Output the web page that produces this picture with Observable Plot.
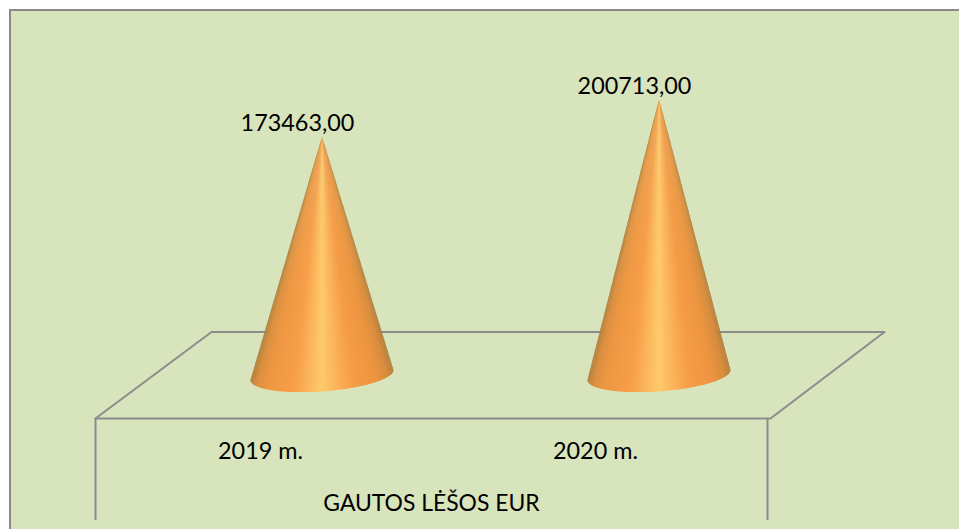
<!DOCTYPE html>
<html>
<head>
<meta charset="utf-8">
<style>html,body{margin:0;padding:0;background:#fff;overflow:hidden}svg{display:block}</style>
<script src="https://cdn.jsdelivr.net/npm/d3@7"></script>
<script src="https://cdn.jsdelivr.net/npm/@observablehq/plot@0.6"></script>
</head>
<body>
<div id="chart"></div>
<script>
// Chart values
const categories = ["2019 m.", "2020 m."];
const values = [173463, 200713];
const valueLabels = ["173463,00", "200713,00"];
const seriesName = "GAUTOS LĖŠOS EUR";

// 3D frame of the chart in chart units (category index, EUR)
const floorX = [-0.3294, 1.6677, 1.3294, -0.6736, -0.3294];
const floorY = [31706, 31706, -31341, -31341, 31706];
const wallX = [-0.6736, 1.3205];
const wallTop = -31341;
const wallBottom = -105685;
const plotBox = {x1: -0.9258, x2: 1.9, y1: 266035, y2: -116000};
const categoryLabelY = -55394;
const categoryLabelX = [-0.184, 0.81];
const seriesLabelX = 0.3233;
const seriesLabelY = -93500;

// Cone base in chart units
const baseRx = 0.2122;   // half width, category units
const baseRy = 11900;    // half depth, EUR units
const baseTilt = 3650;   // rise to the right, EUR units
const steps = d3.range(0, 121);

// Horizontal shading across a cone
const shadeAt = [0, 0.04, 0.12, 0.3, 0.4, 0.5, 0.6, 0.72, 0.88, 0.96, 1];
const shadeStops = ["#b27c38", "#dc8e3e", "#ee9742", "#f79e49", "#fbb45a", "#fecb6c", "#fbb45a", "#f69c47", "#ec9540", "#d88b3c", "#b27c38"];
const shade = d3.scaleLinear().domain(shadeAt).range(shadeStops).interpolate(d3.interpolateRgb);

const slices = categories.flatMap((c, i) => steps.slice(0, -1).map(s => {
  const t0 = Math.PI * s / 120, t1 = Math.min(Math.PI, Math.PI * (s + 1.7) / 120);
  const pt = t => ({
    x: i + baseRx * Math.cos(t),
    y: -baseRy * Math.sin(t) + baseTilt * Math.cos(t)
  });
  const a = pt(t0), b = pt(t1);
  const color = shade((1 + Math.cos(Math.PI * (s + 0.5) / 120)) / 2);
  return [
    {z: `${i}-${s}`, x1: i, y1: values[i], x2: a.x, y2: a.y, color},
    {z: `${i}-${s}`, x1: i, y1: values[i], x2: b.x, y2: b.y, color}
  ];
}).flat());

const floorLine = floorX.map((x, k) => ({x, y: floorY[k]}));
const walls = wallX.map(x => ({x, y1: wallTop, y2: wallBottom}));
const cats = categories.map((c, i) => ({c, x: categoryLabelX[i]}));
const tops = values.map((v, i) => ({x: i, v, label: valueLabels[i]}));

const font = "Lato, 'Open Sans', sans-serif";
const plot = Plot.plot({
  width: 959,
  height: 529,
  margin: 0,
  style: {background: "transparent", fontFamily: font},
  x: {type: "linear", domain: [0, 1], range: [322, 659], axis: null},
  y: {type: "linear", domain: [0, 200000], range: [375, 100.6], axis: null},
  color: {type: "identity"},
  marks: [
    Plot.rect([plotBox], {x1: "x1", x2: "x2", y1: "y1", y2: "y2", fill: "#d8e4bc", stroke: "#8a8a8a", strokeWidth: 2}),
    Plot.line(floorLine, {x: "x", y: "y", stroke: "#8c8c8c", strokeWidth: 2}),
    Plot.ruleX(walls, {x: "x", y1: "y1", y2: "y2", stroke: "#8c8c8c", strokeWidth: 2}),
    Plot.area(slices, {x1: "x1", y1: "y1", x2: "x2", y2: "y2", z: "z", fill: "color"}),
    Plot.text(tops, {x: "x", y: "v", text: "label", dx: -25, dy: -14, fontSize: 23.4, fill: "#000"}),
    Plot.text(cats, {x: "x", y: () => categoryLabelY, text: "c", fontSize: 23.4, fill: "#000"}),
    Plot.text([seriesName], {x: () => seriesLabelX, y: () => seriesLabelY, text: d => d, fontSize: 22.9, fill: "#000"})
  ]
});
document.getElementById("chart").append(plot);
</script>
</body>
</html>
